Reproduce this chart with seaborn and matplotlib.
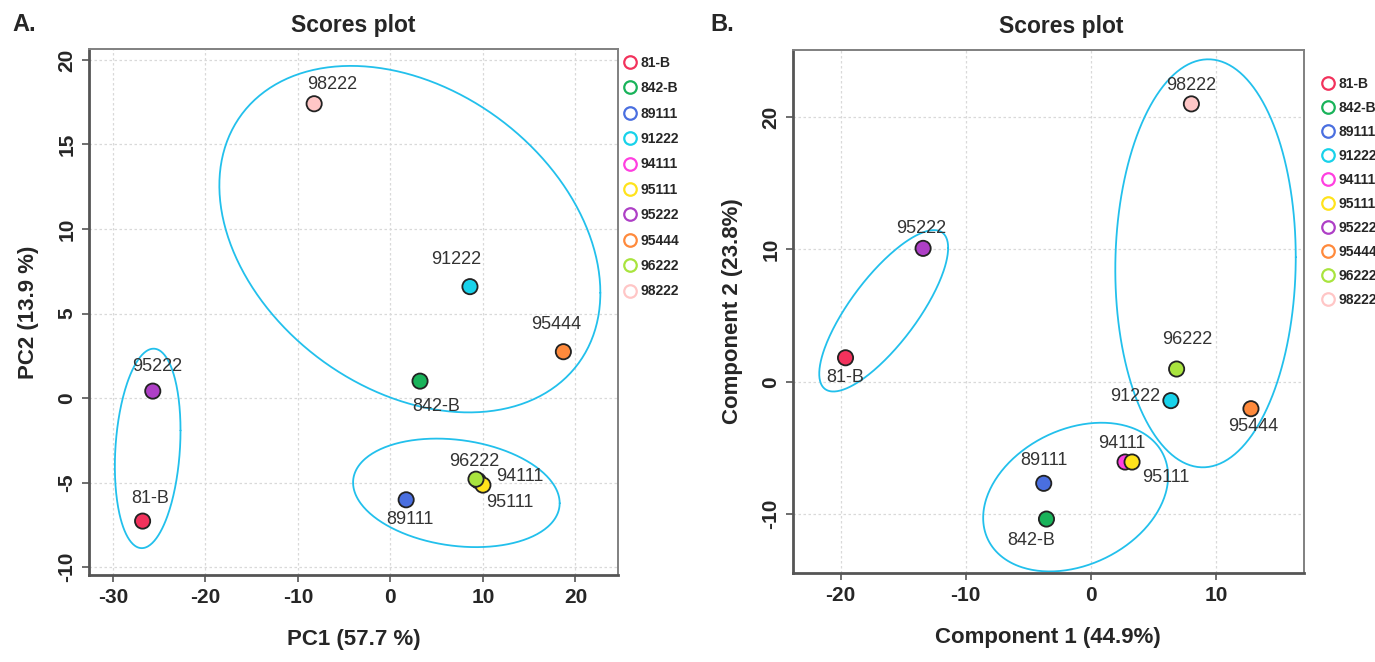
import numpy as np
import pandas as pd
import matplotlib
matplotlib.use("Agg")
import matplotlib.pyplot as plt
from matplotlib.lines import Line2D
import seaborn as sns

# ---------------- data ----------------
samples = ["81-B", "842-B", "89111", "91222", "94111", "95111", "95222", "95444", "96222", "98222"]
colors = ["#F2325C", "#19B35A", "#4A6FE0", "#18D2EA", "#FF3FE0", "#FFE31C", "#AE3FC6", "#FF8A3C", "#A9E43E", "#FFC6C6"]

# Panel A (PCA)
pc1 = [-26.8, 3.2, 1.7, 8.6, 9.5, 10.0, -25.7, 18.7, 9.25, -8.25]
pc2 = [-7.28, 1.0, -6.02, 6.59, -4.9, -5.15, 0.41, 2.74, -4.8, 17.41]
# Panel B (PLS-DA)
comp1 = [-19.6, -3.54, -3.76, 6.4, 2.74, 3.3, -13.4, 12.8, 6.86, 8.04]
comp2 = [1.81, -10.38, -7.68, -1.43, -6.07, -6.07, 10.08, -2.04, 0.96, 21.0]

# ellipses: center x, center y, half-width x, half-height y, correlation
ellA_cx = [2.1, -26.25, 7.13]
ellA_cy = [9.4, -2.98, -5.61]
ellA_hx = [20.6, 3.55, 11.17]
ellA_hy = [10.25, 5.9, 3.21]
ellA_rho = [-0.31, 0.18, -0.19]

ellB_cx = [-16.55, 9.17, -1.21]
ellB_cy = [5.36, 8.95, -8.72]
ellB_hx = [5.15, 7.21, 7.39]
ellB_hy = [6.1, 15.42, 5.62]
ellB_rho = [0.78, 0.03, 0.28]

xticksA = [-30, -20, -10, 0, 10, 20]
yticksA = [-10, -5, 0, 5, 10, 15, 20]
xticksB = [-20, -10, 0, 10]
yticksB = [-10, 0, 10, 20]

# label offsets (pixels)
offA = {"81-B": (8, 23), "842-B": (16, -25), "89111": (4, -20), "91222": (-14, 27),
        "94111": (42, 4), "95111": (27, -17), "95222": (4, 25), "95444": (-7, 27),
        "96222": (-2, 18), "98222": (18, 19)}
offB = {"81-B": (0, -20), "842-B": (-15, -21), "89111": (0, 23), "91222": (-36, 4),
        "94111": (-3, 19), "95111": (34, -15), "95222": (-2, 20), "95444": (2, -18),
        "96222": (11, 30), "98222": (0, 18)}

palette = dict(zip(samples, colors))

sns.set_style("white")
plt.rcParams["font.family"] = ["Liberation Sans", "DejaVu Sans"]
plt.rcParams["axes.unicode_minus"] = False

fig = plt.figure(figsize=(13.75, 6.62), dpi=100)
axA = fig.add_axes([0.0647, 0.1314, 0.3847, 0.7946])
axB = fig.add_axes([0.5767, 0.1344, 0.3713, 0.7900])

ell_color = "#22C0EC"


def draw_panel(ax, xs, ys, cx, cy, hx, hy, rho, offs, xlim, ylim, xt, yt, xlabel, ylabel, title_x):
    df = pd.DataFrame({"x": xs, "y": ys, "sample": samples})
    ax.set_xlim(*xlim)
    ax.set_ylim(*ylim)
    ax.set_xticks(xt)
    ax.set_yticks(yt)
    ax.grid(True, color="#D9D9D9", linestyle=(0, (2, 2)), linewidth=0.9)
    ax.set_axisbelow(True)
    t = np.linspace(0, 2 * np.pi, 300)
    for i in range(len(cx)):
        ex = cx[i] + hx[i] * np.cos(t)
        ey = cy[i] + hy[i] * (rho[i] * np.cos(t) + np.sqrt(1 - rho[i] ** 2) * np.sin(t))
        ax.plot(ex, ey, color=ell_color, lw=1.3, zorder=2)
    sns.scatterplot(data=df, x="x", y="y", hue="sample", palette=palette, s=120,
                    edgecolor="#222222", linewidth=1.3, legend=False, ax=ax, zorder=3)
    for s, x, y in zip(samples, xs, ys):
        dx, dy = offs[s]
        ax.annotate(s, (x, y), xytext=(dx, dy), textcoords="offset pixels",
                    ha="center", va="center", fontsize=13, color="#333333", zorder=4)
    for sp in ax.spines.values():
        sp.set_color("#808080")
        sp.set_linewidth(1.4)
    ax.spines["left"].set_color("#555555")
    ax.spines["bottom"].set_color("#555555")
    ax.spines["left"].set_linewidth(2.0)
    ax.spines["bottom"].set_linewidth(2.0)
    ax.tick_params(axis="both", which="both", direction="out", length=5, width=1.2,
                   color="#555555", labelsize=15, bottom=True, left=True, pad=4)
    for lab in ax.get_xticklabels():
        lab.set_fontweight("bold")
    for lab in ax.get_yticklabels():
        lab.set_fontweight("bold")
        lab.set_rotation(90)
        lab.set_va("center")
    ax.set_xlabel(xlabel, fontsize=16, fontweight="bold", labelpad=16)
    ax.set_ylabel(ylabel, fontsize=16, fontweight="bold", labelpad=13)
    ax.set_title("Scores plot", fontsize=16.5, fontweight="bold", pad=12, x=title_x)


draw_panel(axA, pc1, pc2, ellA_cx, ellA_cy, ellA_hx, ellA_hy, ellA_rho, offA,
           (-32.6, 24.6), (-10.47, 20.65), xticksA, yticksA, "PC1 (57.7 %)", "PC2 (13.9 %)", 0.5)
draw_panel(axB, comp1, comp2, ellB_cx, ellB_cy, ellB_hx, ellB_hy, ellB_rho, offB,
           (-23.8, 17.0), (-14.46, 25.07), xticksB, yticksB, "Component 1 (44.9%)", "Component 2 (23.8%)", 0.525)

handles = [Line2D([0], [0], marker="o", linestyle="", markerfacecolor="none",
                  markeredgecolor=c, markeredgewidth=1.6, markersize=9) for c in colors]

legA = axA.legend(handles, samples, loc="upper left", bbox_to_anchor=(0.997, 1.0),
                  frameon=False, prop={"weight": "bold", "size": 10}, handletextpad=0.25,
                  labelspacing=0.82, borderaxespad=0.1, handlelength=1.0)
legB = axB.legend(handles, samples, loc="upper left", bbox_to_anchor=(1.02, 0.962),
                  frameon=False, prop={"weight": "bold", "size": 10}, handletextpad=0.25,
                  labelspacing=0.72, borderaxespad=0.1, handlelength=1.0)

fig.text(0.009, 0.963, "A.", fontsize=17, fontweight="bold", va="center")
fig.text(0.517, 0.963, "B.", fontsize=17, fontweight="bold", va="center")

fig.savefig("out.png", dpi=100)
